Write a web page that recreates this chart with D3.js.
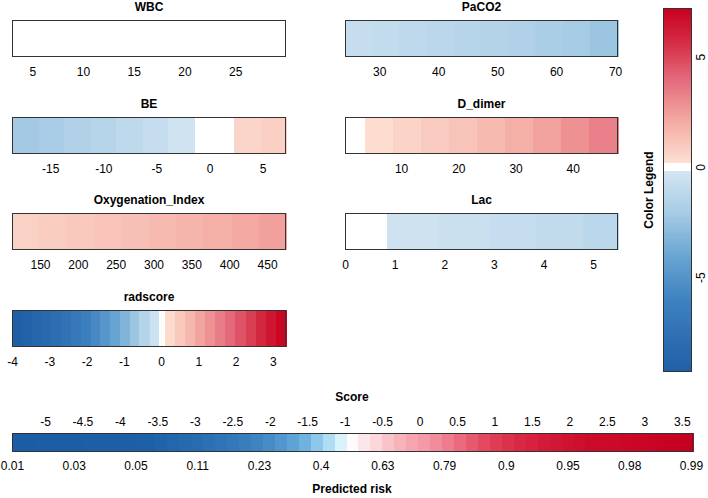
<!DOCTYPE html>
<html><head><meta charset="utf-8">
<script src="https://cdn.jsdelivr.net/npm/d3@7"></script>
<style>
body{margin:0;background:#fff}
svg{display:block;font-family:"Liberation Sans",Arial,Helvetica,sans-serif}
</style>
</head><body>
<svg id="chart" width="708" height="498"></svg>
<script>
// ---------------- data ----------------
const wbcBreaks = [3, 30];
const wbcContrib = [0];
const wbcTicks = [5, 10, 15, 20, 25];

const paco2Breaks = [24.2, 28.8, 33.4, 38, 42.7, 47.3, 51.9, 56.5, 61.1, 65.8, 70.5];
const paco2Contrib = [-0.8, -0.95, -1.1, -1.25, -1.4, -1.55, -1.7, -1.9, -2.1, -2.4];
const paco2Ticks = [30, 40, 50, 60, 70];

const beBreaks = [-18.6, -16.1, -13.7, -11.2, -8.8, -6.3, -3.9, -1.4, 2.3, 4.8, 7.2];
const beContrib = [-2.2, -2.0, -1.7, -1.4, -1.1, -0.8, -0.4, 0, 0.55, 0.75];
const beTicks = [-15, -10, -5, 0, 5];

const ddimerBreaks = [0.2, 3.7, 8.6, 13.5, 18.4, 23.3, 28.2, 33.1, 38.0, 42.9, 47.9];
const ddimerContrib = [0, 0.3, 0.6, 0.9, 1.2, 1.5, 1.9, 2.3, 2.8, 3.3];
const ddimerTicks = [10, 20, 30, 40];

const oxyBreaks = [113, 149, 185, 222, 258, 294, 330, 366, 403, 439, 475];
const oxyContrib = [0.7, 0.85, 1.0, 1.15, 1.3, 1.5, 1.7, 1.9, 2.1, 2.35];
const oxyTicks = [150, 200, 250, 300, 350, 400, 450];

const lacBreaks = [0, 0.85, 1.87, 2.9, 3.85, 4.8, 5.5];
const lacContrib = [0, -0.45, -0.6, -0.8, -1.0, -1.25];
const lacTicks = [0, 1, 2, 3, 4, 5];

const radBreaks = [-4.0, -3.74, -3.47, -3.21, -2.95, -2.68, -2.42, -2.16, -1.89, -1.63, -1.37, -1.1, -0.84, -0.58, -0.31, -0.05,
                   0.1, 0.37, 0.64, 0.91, 1.18, 1.45, 1.72, 1.99, 2.27, 2.54, 2.81, 3.08, 3.35];
const radContrib = [-9.3, -9.0, -8.7, -8.3, -7.9, -7.4, -6.9, -6.3, -5.6, -4.9, -4.1, -3.3, -2.4, -1.5, -0.5,
                    0, 0.4, 1.0, 1.6, 2.2, 2.8, 3.4, 4.0, 4.6, 5.2, 5.8, 6.4, 7.0];
const radTicks = [-4, -3, -2, -1, 0, 1, 2, 3];

const legendRange = [-9.3, 7.2];
const legendTicks = [-5, 0, 5];

const scoreRange = [-5.44, 3.65];
const scoreTicks = [-5, -4.5, -4, -3.5, -3, -2.5, -2, -1.5, -1, -0.5, 0, 0.5, 1, 1.5, 2, 2.5, 3, 3.5];
const riskLabels = ["0.01", "0.03", "0.05", "0.11", "0.23", "0.4", "0.63", "0.79", "0.9", "0.95", "0.98", "0.99"];

// ---------------- colours ----------------
const negColor = d3.scaleLinear().domain([-0.18, -2, -4, -6, -9.3])
  .range(["#d4e6f2", "#a9cde6", "#6aa6d3", "#3f82c0", "#1f5fa7"]).clamp(true);
const posColor = d3.scaleLinear().domain([0.18, 2, 4, 5.7, 7.2])
  .range(["#fde0d2", "#f4aca4", "#e3697a", "#d42a42", "#c8001e"]).clamp(true);
function contribColor(v) {
  if (Math.abs(v) < 0.18) return "#ffffff";
  return v < 0 ? negColor(v) : posColor(v);
}
const scoreColor = d3.scaleLinear()
  .domain([-5.44, -3.6, -3.1, -2.6, -2.1, -1.6, -1.3, -1.1, -0.93, -0.75, -0.55, -0.3, 0, 0.3, 0.6, 0.9, 1.2, 1.6, 2.2, 3.65])
  .range(["#1a5ca5", "#1d60a8", "#2569ae", "#2f75b7", "#3f86c3", "#64a9da", "#99d2f0", "#cdeef9", "#ffffff",
          "#fde8ea", "#fbd3d8", "#f8b5bd", "#f59eaa", "#f08594", "#ea6378", "#e2465d", "#db2f4a", "#d51c3a", "#cd0c2c", "#c50020"]);

// ---------------- layout ----------------
const svg = d3.select("#chart");
const colX = [[12, 286], [345, 618]];
const rowTop = [20, 117, 213, 310];
const boxH = 37;
const FONT = '"Liberation Sans",Arial,Helvetica,sans-serif';

const panels = [
  {name: "WBC", breaks: wbcBreaks, contrib: wbcContrib, ticks: wbcTicks, col: 0, row: 0},
  {name: "PaCO2", breaks: paco2Breaks, contrib: paco2Contrib, ticks: paco2Ticks, col: 1, row: 0},
  {name: "BE", breaks: beBreaks, contrib: beContrib, ticks: beTicks, col: 0, row: 1},
  {name: "D_dimer", breaks: ddimerBreaks, contrib: ddimerContrib, ticks: ddimerTicks, col: 1, row: 1},
  {name: "Oxygenation_Index", breaks: oxyBreaks, contrib: oxyContrib, ticks: oxyTicks, col: 0, row: 2},
  {name: "Lac", breaks: lacBreaks, contrib: lacContrib, ticks: lacTicks, col: 1, row: 2},
  {name: "radscore", breaks: radBreaks, contrib: radContrib, ticks: radTicks, col: 0, row: 3}
];

function styleAxis(g) {
  g.select(".domain").remove();
  g.attr("font-family", FONT).attr("font-size", 12);
  g.selectAll("text").attr("fill", "#000");
}

panels.forEach(p => {
  const [x0, x1] = colX[p.col];
  const top = rowTop[p.row];
  const x = d3.scaleLinear().domain([p.breaks[0], p.breaks[p.breaks.length - 1]]).range([x0, x1]);
  const g = svg.append("g");
  const cells = p.contrib.map((v, i) => ({a: p.breaks[i], b: p.breaks[i + 1], v}));
  g.selectAll("rect.cell").data(cells).join("rect")
    .attr("class", "cell")
    .attr("x", d => x(d.a)).attr("width", d => x(d.b) - x(d.a) + 0.5)
    .attr("y", top).attr("height", boxH)
    .attr("fill", d => contribColor(d.v))
    .attr("shape-rendering", "crispEdges");
  g.append("rect").attr("x", x0 + 0.5).attr("y", top + 0.5).attr("width", x1 - x0 - 1).attr("height", boxH - 1)
    .attr("fill", "none").attr("stroke", "#333").attr("stroke-width", 1);
  g.append("text").attr("x", (x0 + x1) / 2).attr("y", top - 9)
    .attr("text-anchor", "middle").attr("font-weight", "bold").attr("font-size", 12).text(p.name);
  g.append("g").attr("transform", `translate(0,${top + boxH})`)
    .call(d3.axisBottom(x).tickValues(p.ticks).tickSize(0).tickPadding(10.5).tickFormat(d => String(d)))
    .call(styleAxis);
});

// ---------------- colour legend ----------------
const legX0 = 663, legX1 = 692;
const legY = d3.scaleLinear().domain(legendRange).range([372, 8]);
const legCells = d3.range(8, 372, 1).map(y => ({y, v: legY.invert(y + 0.5)}));
svg.append("g").selectAll("rect").data(legCells).join("rect")
  .attr("x", legX0).attr("width", legX1 - legX0).attr("y", d => d.y).attr("height", 1.2)
  .attr("fill", d => contribColor(d.v)).attr("shape-rendering", "crispEdges");
svg.append("rect").attr("x", legX0 + 0.5).attr("y", 8.5).attr("width", legX1 - legX0 - 1).attr("height", 363)
  .attr("fill", "none").attr("stroke", "#333");
const legAxis = svg.append("g").attr("transform", `translate(${legX1},0)`)
  .call(d3.axisRight(legY).tickValues(legendTicks).tickSize(0).tickFormat(d => String(d)))
  .call(styleAxis);
legAxis.selectAll("text").attr("x", 0).attr("dy", "0.71em").attr("y", 0)
  .attr("text-anchor", "middle").attr("transform", "translate(4,0) rotate(-90)");
svg.append("text").attr("transform", `translate(649,190) rotate(-90)`)
  .attr("text-anchor", "middle").attr("dy", "0.35em").attr("font-weight", "bold").attr("font-size", 12)
  .text("Color Legend");

// ---------------- score bar ----------------
const barTop = 433, barH = 19;
const sx = d3.scaleLinear().domain(scoreRange).range([12, 693]);
const nCells = 57;
const step = (scoreRange[1] - scoreRange[0]) / nCells;
const scoreCells = d3.range(nCells).map(i => ({a: scoreRange[0] + i * step, b: scoreRange[0] + (i + 1) * step}));
svg.append("g").selectAll("rect").data(scoreCells).join("rect")
  .attr("x", d => sx(d.a)).attr("width", d => sx(d.b) - sx(d.a) + 0.5)
  .attr("y", barTop).attr("height", barH)
  .attr("fill", d => scoreColor((d.a + d.b) / 2)).attr("shape-rendering", "crispEdges");
svg.append("rect").attr("x", 12.5).attr("y", barTop + 0.5).attr("width", 680).attr("height", barH - 1)
  .attr("fill", "none").attr("stroke", "#333");
svg.append("g").attr("transform", `translate(0,${barTop})`)
  .call(d3.axisTop(sx).tickValues(scoreTicks).tickSize(0).tickPadding(7).tickFormat(d => String(d)))
  .call(styleAxis);
const rx = d3.scalePoint().domain(riskLabels).range([12, 691]);
svg.append("g").attr("transform", `translate(0,${barTop + barH})`)
  .call(d3.axisBottom(rx).tickSize(0).tickPadding(9.5))
  .call(styleAxis);
svg.append("text").attr("x", 352).attr("y", 401).attr("text-anchor", "middle")
  .attr("font-weight", "bold").attr("font-size", 12).text("Score");
svg.append("text").attr("x", 352).attr("y", 493).attr("text-anchor", "middle")
  .attr("font-weight", "bold").attr("font-size", 12).text("Predicted risk");
</script>
</body></html>
